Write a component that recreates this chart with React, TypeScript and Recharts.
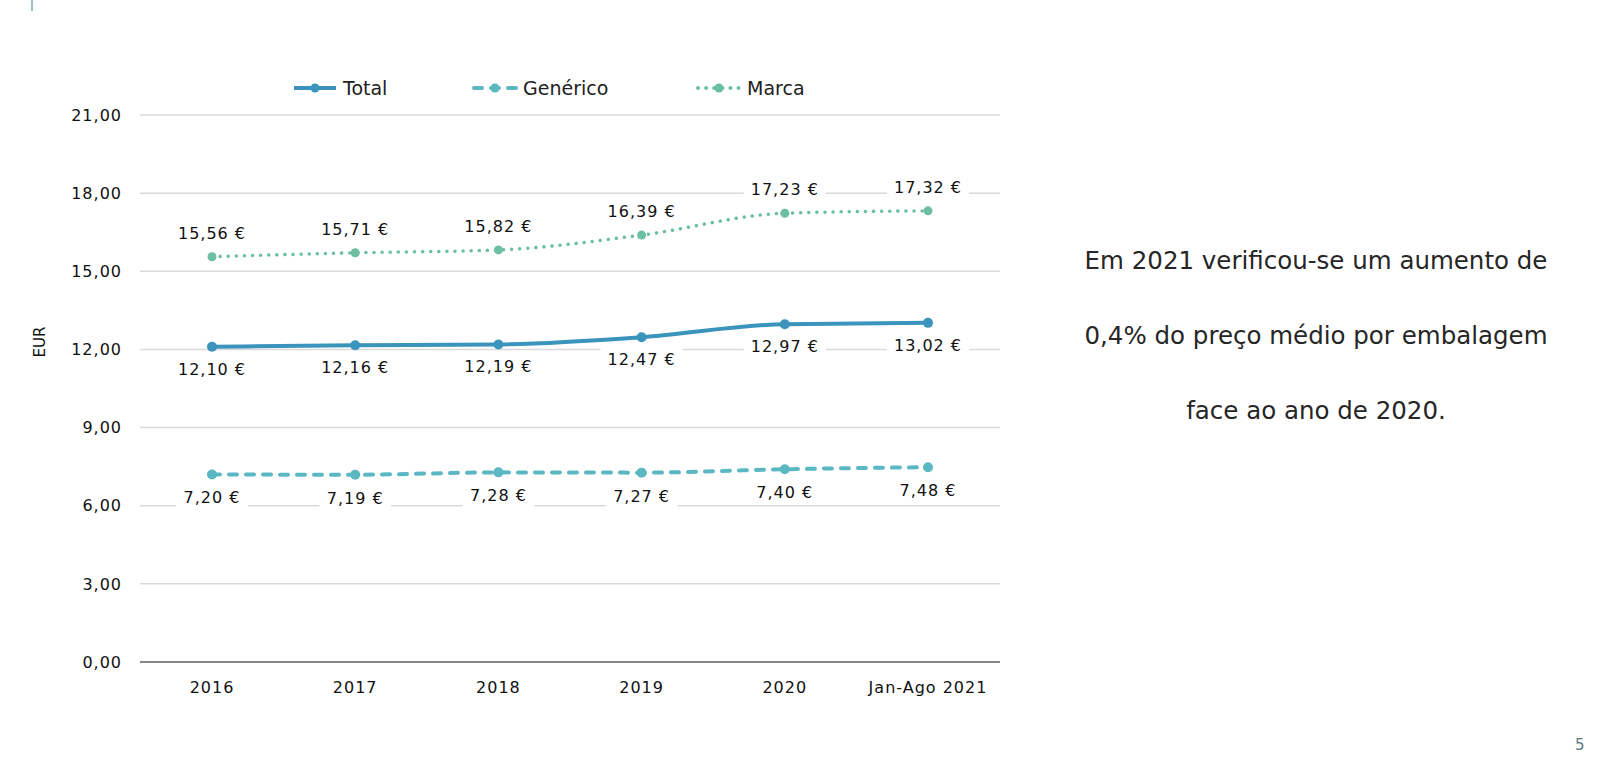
import { CartesianGrid, LabelList, Legend, Line, LineChart, XAxis, YAxis } from "recharts";

const CATEGORIES = ["2016", "2017", "2018", "2019", "2020", "Jan-Ago 2021"];
const TOTAL = [12.1, 12.16, 12.19, 12.47, 12.97, 13.02];
const GENERICO = [7.2, 7.19, 7.28, 7.27, 7.4, 7.48];
const MARCA = [15.56, 15.71, 15.82, 16.39, 17.23, 17.32];
const Y_TICKS = [0, 3, 6, 9, 12, 15, 18, 21];

const data = CATEGORIES.map((cat, i) => ({
  cat,
  total: TOTAL[i],
  generico: GENERICO[i],
  marca: MARCA[i],
}));

const FONT = "'DejaVu Sans', sans-serif";
const C_TOTAL = "#3a94bc";
const C_GEN = "#5bb8c3";
const C_MARCA = "#6dbfa2";

const SERIES = [
  { key: "total", name: "Total", color: C_TOTAL, dash: undefined as string | undefined, cap: "butt", width: 180 },
  { key: "generico", name: "Genérico", color: C_GEN, dash: "8 9", cap: "round", width: 224 },
  { key: "marca", name: "Marca", color: C_MARCA, dash: "0.1 8", cap: "round", width: 140 },
];

const eur = (v: number) => v.toFixed(2).replace(".", ",");

function makeLabel(dy: number) {
  return (props: any) => {
    const { x, y, value } = props;
    const text = `${eur(value)} €`;
    const w = text.length * 10.3 + 10;
    return (
      <g>
        <rect x={x - w / 2} y={y + dy - 12} width={w} height={24} fill="#fff" />
        <text
          x={x}
          y={y + dy}
          textAnchor="middle"
          dominantBaseline="central"
          fontFamily={FONT}
          fontSize={16}
          letterSpacing={1}
          fill="#111"
        >
          {text}
        </text>
      </g>
    );
  };
}

function LegendContent() {
  return (
    <div style={{ display: "flex", height: 24, alignItems: "center", marginLeft: 291, fontFamily: FONT, fontSize: 19, color: "#222" }}>
      {SERIES.map((s) => (
        <div key={s.key} style={{ display: "flex", alignItems: "center", width: s.width }}>
          <svg width={48} height={14} style={{ marginRight: 4 }}>
            <line
              x1={3}
              y1={7}
              x2={45}
              y2={7}
              stroke={s.color}
              strokeWidth={4}
              strokeDasharray={s.dash}
              strokeLinecap={s.cap as any}
            />
            <circle cx={24} cy={7} r={4.5} fill={s.color} />
          </svg>
          <span>{s.name}</span>
        </div>
      ))}
    </div>
  );
}

const EurLabel = () => (
  <text
    x={40}
    y={342}
    transform="rotate(-90 40 342)"
    textAnchor="middle"
    dominantBaseline="central"
    fontFamily={FONT}
    fontSize={15}
    fill="#111"
  >
    EUR
  </text>
);

export default function App() {
  return (
    <div
      style={{
        position: "absolute",
        left: 0,
        top: 0,
        width: 1600,
        height: 779,
        background: "#fff",
        overflow: "hidden",
      }}
    >
      <div style={{ position: "absolute", left: 31, top: 0, width: 2, height: 11, background: "#9cc0c1" }} />
      <div style={{ position: "absolute", left: 0, top: 0 }}>
        <LineChart width={1020} height={740} data={data} margin={{ top: 91, right: 20, bottom: 48, left: 0 }}>
          <CartesianGrid vertical={false} stroke="#d9d9d9" strokeWidth={1.5} />
          <Legend
            verticalAlign="top"
            content={LegendContent}
            wrapperStyle={{ top: 76, left: 0, width: 1020 }}
          />
          <XAxis
            dataKey="cat"
            padding={{ left: 72, right: 72 }}
            height={30}
            tickLine={false}
            axisLine={{ stroke: "#868686", strokeWidth: 2 }}
            tick={{ fill: "#111", fontSize: 16, fontFamily: FONT, letterSpacing: 1 }}
            tickMargin={14}
          />
          <YAxis
            width={140}
            domain={[0, 21]}
            ticks={Y_TICKS}
            tickFormatter={(v) => eur(Number(v))}
            axisLine={false}
            tickLine={false}
            tickMargin={12}
            tick={{ fill: "#111", fontSize: 16, fontFamily: FONT, letterSpacing: 1 }}
            label={<EurLabel />}
          />
          <Line
            dataKey="total"
            name="Total"
            type="monotone"
            stroke={C_TOTAL}
            strokeWidth={4}
            dot={{ r: 5, fill: C_TOTAL, stroke: "none" }}
            isAnimationActive={false}
          >
            <LabelList dataKey="total" content={makeLabel(22.5)} />
          </Line>
          <Line
            dataKey="generico"
            name="Genérico"
            type="monotone"
            stroke={C_GEN}
            strokeWidth={4}
            strokeDasharray="8 9"
            strokeLinecap="round"
            dot={{ r: 5, fill: C_GEN, stroke: "none", strokeDasharray: "" }}
            isAnimationActive={false}
          >
            <LabelList dataKey="generico" content={makeLabel(23.5)} />
          </Line>
          <Line
            dataKey="marca"
            name="Marca"
            type="monotone"
            stroke={C_MARCA}
            strokeWidth={3.5}
            strokeDasharray="0.1 8"
            strokeLinecap="round"
            dot={{ r: 4.5, fill: C_MARCA, stroke: "none", strokeDasharray: "" }}
            isAnimationActive={false}
          >
            <LabelList dataKey="marca" content={makeLabel(-23.5)} />
          </Line>
        </LineChart>
      </div>
      <div
        style={{
          position: "absolute",
          left: 1026,
          top: 223,
          width: 580,
          textAlign: "center",
          fontFamily: FONT,
          fontSize: 24.5,
          lineHeight: "75px",
          color: "#262626",
        }}
      >
        <div>Em 2021 verificou-se um aumento de</div>
        <div>0,4% do preço médio por embalagem</div>
        <div>face ao ano de 2020.</div>
      </div>
      <div
        style={{
          position: "absolute",
          left: 1575,
          top: 736,
          fontFamily: FONT,
          fontSize: 15,
          color: "#5a7a80",
        }}
      >
        5
      </div>
    </div>
  );
}
